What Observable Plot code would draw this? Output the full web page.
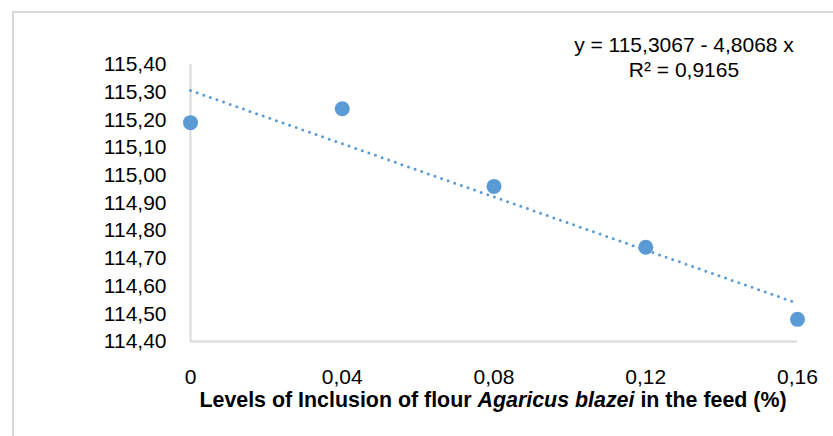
<!DOCTYPE html>
<html>
<head>
<meta charset="utf-8">
<script src="https://cdn.jsdelivr.net/npm/d3@7"></script>
<script src="https://cdn.jsdelivr.net/npm/@observablehq/plot@0.6"></script>
<style>
  html, body { margin: 0; padding: 0; background: #fff; }
  #wrap { position: relative; width: 833px; height: 436px; overflow: hidden; font-family: "Liberation Sans", Arial, sans-serif; }
  #frame { position: absolute; left: 12px; top: 11px; width: 900px; height: 500px; border: 2px solid #d9d9d9; box-sizing: border-box; }
  #eq { position: absolute; left: 534px; width: 300px; top: 32px; text-align: center; font-size: 21px; line-height: 25px; color: #000; }
  #xtitle { position: absolute; left: 0; width: 986px; top: 390px; line-height: 21px; text-align: center; font-size: 21.4px; font-weight: bold; color: #000; white-space: nowrap; }
  #chart { position: absolute; left: 0; top: 0; }
</style>
</head>
<body>
<div id="wrap">
  <div id="frame"></div>
  <div id="chart"></div>
  <div id="eq"><div>y = 115,3067 - 4,8068 x</div><div>R² = 0,9165</div></div>
  <div id="xtitle">Levels of Inclusion of flour <i>Agaricus blazei</i> in the feed (%)</div>
</div>
<script>
const levels = [0, 0.04, 0.08, 0.12, 0.16];
const values = [115.19, 115.24, 114.96, 114.74, 114.48];
const xTicks = [0, 0.04, 0.08, 0.12, 0.16];
const yTicks = [114.4, 114.5, 114.6, 114.7, 114.8, 114.9, 115.0, 115.1, 115.2, 115.3, 115.4];

const data = levels.map((x, i) => ({x, y: values[i]}));
const comma = s => s.replace(".", ",");
const blue = "#5b9bd5";

const chart = Plot.plot({
  width: 833,
  height: 436,
  marginLeft: 190,
  marginRight: 36,
  marginTop: 64,
  marginBottom: 95,
  style: { fontFamily: "Liberation Sans, Arial, sans-serif", fontSize: "21px", color: "#000", background: "transparent" },
  x: { domain: [0, 0.16] },
  y: { domain: [114.4, 115.4] },
  marks: [
    Plot.axisY({ ticks: yTicks, tickSize: 0, tickPadding: 24, tickFormat: d => comma(d3.format(".2f")(d)), label: null, fontSize: 21 }),
    Plot.axisX({ ticks: xTicks, tickSize: 0, tickPadding: 28, tickFormat: d => d === 0 ? "0" : comma(d3.format(".2f")(d)), label: null, fontSize: 21 }),
    Plot.ruleX([0], { stroke: "#d9d9d9", strokeWidth: 2 }),
    Plot.ruleY([114.4], { stroke: "#d9d9d9", strokeWidth: 2 }),
    Plot.linearRegressionY(data, { x: "x", y: "y", ci: 0, stroke: blue, strokeWidth: 3, strokeDasharray: "0 7", strokeLinecap: "round" }),
    Plot.dot(data, { x: "x", y: "y", r: 7.5, fill: blue, stroke: "none" })
  ]
});
document.getElementById("chart").appendChild(chart);
</script>
</body>
</html>
